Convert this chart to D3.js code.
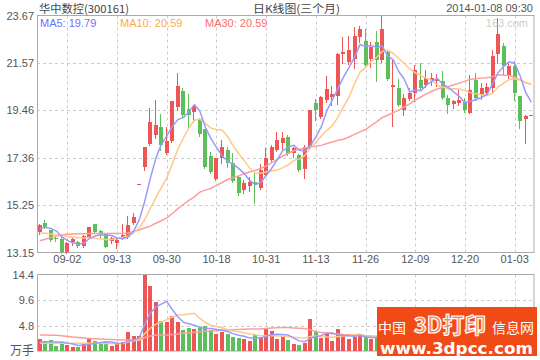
<!DOCTYPE html>
<html>
<head>
<meta charset="utf-8">
<script src="https://cdn.jsdelivr.net/npm/d3@7/dist/d3.min.js"></script>
<style>
  body { margin: 0; background: #fff; }
  svg { display: block; font-family: "Liberation Sans", Arial, sans-serif; }
</style>
</head>
<body>
<div class="chart"></div>
<script>
// 华中数控 (300161) daily K-line, three months

// Trading days
var dates = [
  "08-26","08-27","08-28","08-29","08-30",
  "09-02","09-03","09-04","09-05","09-06","09-09","09-10","09-11","09-12","09-13",
  "09-16","09-17","09-18","09-23","09-24","09-25","09-26","09-27","09-30",
  "10-08","10-09","10-10","10-11","10-14","10-15","10-16","10-17","10-18",
  "10-21","10-22","10-23","10-24","10-25","10-28","10-29","10-30","10-31",
  "11-01","11-04","11-05","11-06","11-07","11-08","11-11","11-12","11-13",
  "11-14","11-15","11-18","11-19","11-20","11-21","11-22","11-25","11-26",
  "11-27","11-28","11-29","12-02","12-03","12-04","12-05","12-06","12-09",
  "12-10","12-11","12-12","12-13","12-16","12-17","12-18","12-19","12-20",
  "12-23","12-24","12-25","12-26","12-27","12-30","12-31","01-02","01-03",
  "01-06","01-07","01-08"
];

var opens = [
  14.07,14.44,14.14,13.80,13.77,
  13.18,13.62,13.62,13.44,13.85,14.41,14.10,14.00,13.67,13.55,
  13.77,13.82,14.44,16.21,16.96,17.97,18.37,18.74,17.58,
  18.08,19.61,20.30,19.52,19.37,19.07,18.63,17.44,16.40,
  17.33,17.70,17.14,16.52,15.92,16.12,16.28,16.00,16.59,
  17.26,17.70,18.00,18.27,17.56,17.48,16.85,17.85,19.78,
  19.16,19.93,20.05,20.08,21.98,21.61,21.74,22.70,22.53,
  21.74,22.48,21.69,22.04,20.48,20.45,19.49,19.96,20.23,
  20.79,20.60,20.79,20.75,20.75,20.01,19.76,19.78,19.83,
  19.34,20.81,20.15,20.23,20.45,21.94,22.30,21.04,21.41,
  20.08,19.07,19.26
];
var highs = [
  14.42,14.59,14.16,13.85,13.85,
  13.60,13.78,13.68,13.92,14.28,14.42,14.14,14.01,13.82,13.78,
  14.40,14.77,14.89,16.21,17.83,19.56,19.90,19.31,18.74,
  19.89,21.12,20.45,20.18,19.70,19.10,18.65,17.63,17.36,
  18.15,17.85,17.55,16.56,16.37,16.52,16.74,17.10,17.78,
  17.90,18.52,18.52,18.35,17.85,17.52,17.90,19.49,19.96,
  20.10,21.00,20.55,22.00,22.72,22.75,23.18,23.20,23.05,
  22.50,23.00,23.67,22.10,21.71,20.85,20.20,20.45,21.49,
  21.57,21.27,21.12,21.08,21.20,20.16,19.92,20.38,20.01,
  21.04,21.12,20.68,20.68,22.16,23.57,22.45,21.60,21.63,
  20.08,19.25,19.26
];
var lows = [
  13.98,14.22,13.68,13.66,13.15,
  13.15,13.50,13.38,13.38,13.82,14.02,13.85,13.38,13.59,13.33,
  13.77,13.80,14.42,16.21,16.80,17.90,18.25,17.70,17.52,
  18.05,19.49,19.15,18.63,18.96,18.30,16.90,16.70,16.35,
  17.14,16.96,16.30,15.70,15.78,15.88,15.33,15.98,16.55,
  17.20,17.65,17.70,17.48,17.40,16.78,16.44,17.80,19.02,
  19.10,19.85,19.70,19.73,21.57,21.50,21.33,22.50,21.45,
  21.40,20.78,21.60,20.80,18.77,19.65,19.26,19.90,19.86,
  20.40,20.50,20.60,20.55,19.98,19.35,19.56,19.70,19.40,
  19.34,19.90,19.95,20.16,20.24,21.57,21.08,20.90,19.93,
  18.68,18.03,19.26
];
var closes = [
  14.37,14.26,13.70,13.73,13.18,
  13.55,13.73,13.44,13.89,14.26,14.07,14.02,13.40,13.78,13.70,
  13.92,14.37,14.74,16.21,17.83,18.96,18.82,17.93,18.08,
  19.89,20.52,19.26,19.26,19.64,18.42,16.96,16.74,17.33,
  17.85,17.11,16.34,15.78,16.22,16.29,16.17,16.81,17.33,
  17.85,18.15,18.23,17.53,17.78,16.81,17.85,19.49,19.49,
  20.05,20.41,20.20,21.98,22.04,22.13,22.75,23.05,21.49,
  22.28,21.71,23.05,20.85,20.60,19.71,20.00,20.23,21.27,
  20.45,20.90,20.90,20.85,20.01,19.71,19.89,19.90,19.46,
  20.38,20.01,20.45,20.50,21.86,22.83,21.41,21.44,20.25,
  18.97,19.21,19.26
];

// Volume, 万手
var volumes = [
  2.24,1.62,2.06,0.94,1.68,
  1.12,0.75,0.75,1.25,2.43,1.87,1.62,1.62,0.94,1.31,
  1.68,3.55,2.80,2.80,14.27,12.20,9.16,5.61,5.49,
  6.54,5.49,3.93,4.24,4.12,4.36,4.68,3.87,3.18,
  3.49,3.18,2.62,2.43,2.24,1.87,2.99,2.62,4.12,
  3.74,2.24,2.80,2.06,1.31,1.12,1.50,5.98,3.55,
  2.43,3.18,1.87,4.12,2.99,2.24,2.62,2.80,2.68,
  2.30,2.40,4.50,3.50,3.80,2.80,2.50,1.80,3.20,
  2.20,1.90,1.50,1.40,2.10,1.90,1.20,1.40,1.50,
  2.90,2.50,1.60,1.50,3.80,5.20,3.60,2.40,3.30,
  3.90,3.00,0.30
];

// Moving-average values before a full window exists
var ma5Head = [14.22,14.27,14.22,14.10];
var ma10Head = [14.02,14.00,13.97,13.94,13.90,13.86,13.83,13.80,13.79];
var ma30Head = [13.67,13.74,13.82,13.88,13.93,13.96,13.97,13.98,13.98,13.99,
  13.99,13.99,13.99,13.99,13.99,14.00,14.02,14.08,14.15,14.24,
  14.32,14.45,14.56,14.69,14.88,15.10,15.28,15.46,15.62];
var vma5Head = [1.75,1.72,1.74,1.70];
var vma10Head = [1.46,1.45,1.45,1.44,1.44,1.45,1.46,1.47,1.47];
var vma30Head = [2.99,2.99,2.98,2.95,2.88,2.75,2.62,2.52,2.44,2.36,
  2.30,2.25,2.20,2.16,2.12,2.09,2.07,2.06,2.07,2.55,
  2.82,2.95,3.00,3.02,3.10,3.20,3.35,3.45,3.53];

var priceTicks = [13.15, 15.25, 17.36, 19.46, 21.57, 23.67];
var volTicks = [4.8, 9.6, 14.4];
var dateTicks = ["09-02","09-13","09-30","10-18","10-31","11-13","11-26","12-09","12-20","01-03"];

var legendItems = [
  {label: "MA5: 19.79", color: "#6f6fff", x: 40},
  {label: "MA10: 20.59", color: "#ffaa40", x: 120},
  {label: "MA30: 20.59", color: "#ff6b6b", x: 205}
];

// Layout
var svgWidth = 540, svgHeight = 360;
var plotLeft = 37, plotRight = 534;
var priceTop = 15.5, priceBottom = 252.5;
var volTop = 274.5, volBottom = 351;

var upColor = "#ee5555", downColor = "#5cbf5c";
var maColors = ["#9a9aff", "#ffc88a", "#ff9d9d"];
var gridColor = "#cccccc", frameColor = "#aaaaaa", textColor = "#555";

function movingAvg(values, n, head) {
  return values.map(function(v, i) {
    if (i < head.length) return head[i];
    return d3.mean(values.slice(i - n + 1, i + 1));
  });
}

var svg = d3.select(".chart")
  .append("svg")
  .attr("width", svgWidth)
  .attr("height", svgHeight);

// Scales
var x = d3.scaleBand().domain(dates).range([plotLeft, plotRight]);
var cx = function(d) { return x(d) + x.bandwidth() / 2; };
var y = d3.scaleLinear().domain([13.15, 23.67]).range([priceBottom, priceTop]);
var yVol = d3.scaleLinear().domain([0, 14.4]).range([volBottom, volTop]);

var candles = dates.map(function(d, i) {
  return {date: d, open: opens[i], high: highs[i], low: lows[i], close: closes[i], vol: volumes[i]};
});

// Grid lines
function drawGrid(yScale, ticks, top, bottom) {
  var g = svg.append("g")
    .attr("stroke", gridColor)
    .attr("stroke-dasharray", "3,3")
    .attr("fill", "none");
  g.selectAll(null)
    .data(ticks)
    .enter()
    .append("line")
    .attr("x1", plotLeft)
    .attr("x2", plotRight)
    .attr("y1", d => Math.round(yScale(d)) + 0.5)
    .attr("y2", d => Math.round(yScale(d)) + 0.5);
  g.selectAll(null)
    .data(dateTicks)
    .enter()
    .append("line")
    .attr("x1", d => Math.round(cx(d)) + 0.5)
    .attr("x2", d => Math.round(cx(d)) + 0.5)
    .attr("y1", top)
    .attr("y2", bottom);
}
drawGrid(y, priceTicks.slice(1, -1), priceTop, priceBottom);
drawGrid(yVol, volTicks.slice(0, -1), volTop, volBottom);

// Frames
svg.append("rect")
  .attr("x", plotLeft + 0.5).attr("y", priceTop)
  .attr("width", plotRight - plotLeft - 0.5).attr("height", priceBottom - priceTop)
  .attr("fill", "none").attr("stroke", frameColor);
svg.append("rect")
  .attr("x", plotLeft + 0.5).attr("y", volTop)
  .attr("width", plotRight - plotLeft - 0.5).attr("height", volBottom - volTop)
  .attr("fill", "none").attr("stroke", frameColor);

// Candles
var candleGroup = svg.append("g").attr("shape-rendering", "crispEdges");
var candleG = candleGroup.selectAll(null)
  .data(candles)
  .enter()
  .append("g")
  .attr("fill", d => d.close >= d.open ? upColor : downColor)
  .attr("stroke", d => d.close >= d.open ? upColor : downColor);

candleG.append("line")
  .attr("x1", d => Math.round(cx(d.date) - 2) + 1.5)
  .attr("x2", d => Math.round(cx(d.date) - 2) + 1.5)
  .attr("y1", d => Math.round(y(d.high)))
  .attr("y2", d => Math.round(y(d.low)) + 1);

candleG.append("rect")
  .attr("stroke", "none")
  .attr("x", d => Math.round(cx(d.date) - 2))
  .attr("width", 4)
  .attr("y", d => Math.round(y(Math.max(d.open, d.close))))
  .attr("height", d => Math.max(1, Math.round(y(Math.min(d.open, d.close))) - Math.round(y(Math.max(d.open, d.close)))));

// Volume bars
svg.append("g")
  .attr("shape-rendering", "crispEdges")
  .selectAll(null)
  .data(candles)
  .enter()
  .append("rect")
  .attr("x", d => Math.round(cx(d.date) - 2))
  .attr("width", 4)
  .attr("y", d => Math.round(yVol(d.vol)))
  .attr("height", d => Math.round(volBottom) - Math.round(yVol(d.vol)))
  .attr("fill", d => d.close >= d.open ? upColor : downColor);

// Moving average lines
var priceMA = [movingAvg(closes, 5, ma5Head), movingAvg(closes, 10, ma10Head), movingAvg(closes, 30, ma30Head)];
var volMA = [movingAvg(volumes, 5, vma5Head), movingAvg(volumes, 10, vma10Head), movingAvg(volumes, 30, vma30Head)];

function drawLines(series, yScale) {
  var line = d3.line()
    .x((d, i) => cx(dates[i]))
    .y(d => yScale(d));
  series.slice().reverse().forEach(function(s, k) {
    svg.append("path")
      .datum(s)
      .attr("d", line)
      .attr("fill", "none")
      .attr("stroke", maColors[2 - k])
      .attr("stroke-width", 1.5)
      .attr("stroke-linejoin", "round");
  });
}
drawLines(priceMA, y);
drawLines(volMA, yVol);

// Axes
function styleAxis(g) {
  g.select(".domain").remove();
  g.selectAll("text")
    .attr("fill", textColor)
    .attr("font-size", 11)
    .attr("font-family", "Liberation Sans, Arial, sans-serif");
}

svg.append("g")
  .attr("transform", `translate(${plotLeft}, 0)`)
  .call(d3.axisLeft(y).tickValues(priceTicks).tickFormat(d3.format(".2f")).tickSize(0).tickPadding(3))
  .call(styleAxis);

svg.append("g")
  .attr("transform", `translate(${plotLeft}, 0)`)
  .call(d3.axisLeft(yVol).tickValues(volTicks).tickFormat(d3.format(".1f")).tickSize(0).tickPadding(3))
  .call(styleAxis);

svg.append("g")
  .attr("transform", `translate(0, ${priceBottom})`)
  .call(d3.axisBottom(x).tickValues(dateTicks).tickSize(0).tickPadding(3))
  .call(styleAxis);

svg.append("text")
  .attr("x", 34).attr("y", volBottom)
  .attr("dy", "0.35em")
  .attr("text-anchor", "end")
  .attr("font-size", 12)
  .attr("font-family", "Noto Sans CJK SC")
  .attr("fill", textColor)
  .text("万手");

// Titles
svg.append("text")
  .attr("x", 39).attr("y", 13)
  .attr("font-size", 11)
  .attr("font-family", "Noto Sans CJK SC")
  .attr("textLength", 90)
  .attr("lengthAdjust", "spacingAndGlyphs")
  .attr("fill", "#444")
  .text("华中数控(300161)");

svg.append("text")
  .attr("x", 253).attr("y", 13)
  .attr("font-size", 11)
  .attr("font-family", "Noto Sans CJK SC")
  .attr("textLength", 87)
  .attr("lengthAdjust", "spacingAndGlyphs")
  .attr("fill", "#444")
  .text("日K线图(三个月)");

svg.append("text")
  .attr("x", 533).attr("y", 12)
  .attr("text-anchor", "end")
  .attr("font-size", 11)
  .attr("fill", textColor)
  .text("2014-01-08 09:30");

svg.append("text")
  .attr("x", 528).attr("y", 27)
  .attr("text-anchor", "end")
  .attr("font-size", 11)
  .attr("fill", "#cccccc")
  .text("163.com");

// MA legend
svg.selectAll(null)
  .data(legendItems)
  .enter()
  .append("text")
  .attr("x", d => d.x)
  .attr("y", 26.5)
  .attr("font-size", 11)
  .attr("fill", d => d.color)
  .text(d => d.label);

// Site badge in the lower right corner
var badge = svg.append("g");
badge.append("rect")
  .attr("x", 377).attr("y", 307)
  .attr("width", 160).attr("height", 49)
  .attr("fill", "#f24a16");
badge.append("text")
  .attr("x", 378).attr("y", 333)
  .attr("font-size", 14)
  .attr("font-family", "Noto Sans CJK SC")
  .attr("fill", "#fff")
  .text("中国");
badge.append("text")
  .attr("x", 414).attr("y", 333)
  .attr("font-size", 22)
  .attr("font-weight", "bold")
  .attr("font-family", "Noto Sans CJK SC")
  .attr("textLength", 72)
  .attr("lengthAdjust", "spacingAndGlyphs")
  .attr("fill", "#f7855c")
  .attr("stroke", "#fff")
  .attr("stroke-width", 1.2)
  .text("3D打印");
badge.append("text")
  .attr("x", 492).attr("y", 333)
  .attr("font-size", 14)
  .attr("font-family", "Noto Sans CJK SC")
  .attr("fill", "#fff")
  .text("信息网");
badge.append("text")
  .attr("x", 380).attr("y", 354)
  .attr("font-size", 16)
  .attr("font-weight", "bold")
  .attr("font-family", "DejaVu Sans, sans-serif")
  .attr("textLength", 153)
  .attr("lengthAdjust", "spacingAndGlyphs")
  .attr("fill", "#fff")
  .text("www.3dpcc.com");
</script>
</body>
</html>
